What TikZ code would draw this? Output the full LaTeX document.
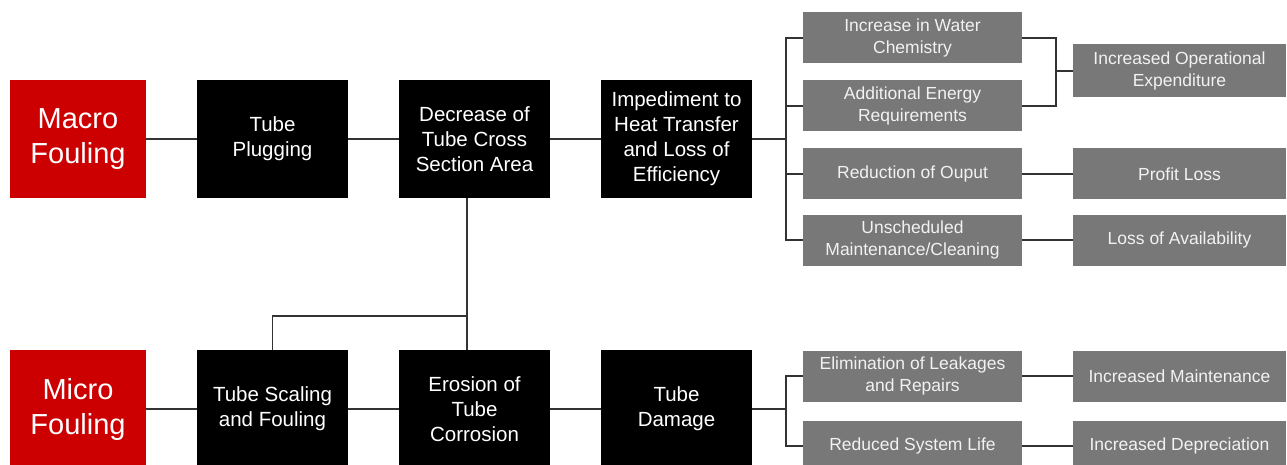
\documentclass[tikz,border=0pt]{standalone}
\usepackage{fontspec}
\setmainfont{Liberation Sans}
\usetikzlibrary{positioning}
\definecolor{foulred}{HTML}{CC0000}
\definecolor{effgray}{HTML}{787878}
\definecolor{linegray}{HTML}{333333}

\begin{document}
\begin{tikzpicture}[x=1pt, y=1pt, node distance=51pt,
			redbox/.style={fill=foulred, text=white, align=center, inner sep=0pt, outer sep=0pt,
				minimum width=136pt, minimum height=118pt, font=\fontsize{29}{35}\selectfont},
			blackbox/.style={fill=black, text=white, align=center, inner sep=0pt, outer sep=0pt,
				minimum width=151pt, minimum height=118pt, font=\fontsize{20.5}{25}\selectfont},
			graybox/.style={fill=effgray, text=white!90!gray, align=center, inner sep=0pt, outer sep=0pt,
				minimum width=219pt, minimum height=51pt, font=\fontsize{17.5}{21.5}\selectfont},
			resultbox/.style={graybox, minimum width=213pt},
			link/.style={draw=linegray, line width=1.3pt}]
			
			\useasboundingbox (0,0) rectangle (1287,-465);
			
			% Ursachen
			\node[redbox] (macro) at (78,-139) {Macro\\Fouling};
			\node[blackbox, right=of macro] (plug) {Tube\\Plugging};
			\node[blackbox, right=of plug] (decrease) {Decrease of\\Tube Cross\\Section Area};
			\node[blackbox, right=of decrease] (impede) {Impediment to\\Heat Transfer\\and Loss of\\Efficiency};
			
			\node[redbox] (micro) at (78,-409) {Micro\\Fouling};
			\node[blackbox, right=of micro] (scaling) {Tube Scaling\\and Fouling};
			\node[blackbox, right=of scaling] (erosion) {Erosion of\\Tube\\Corrosion};
			\node[blackbox, right=of erosion] (damage) {Tube\\Damage};
			
			% Folgen
			\node[graybox, right=of impede, yshift=101pt] (water) {Increase in Water\\Chemistry};
			\node[graybox, right=of impede, yshift=33pt] (energy) {Additional Energy\\Requirements};
			\node[graybox, right=of impede, yshift=-35pt] (output) {Reduction of Ouput};
			\node[graybox, right=of impede, yshift=-101pt] (unsched) {Unscheduled\\Maintenance/Cleaning};
			
			\node[resultbox, right=of water, yshift=-33pt, minimum height=53pt] (opex) {Increased Operational\\Expenditure};
			\node[resultbox, right=of output] (profit) {Profit Loss};
			\node[resultbox, right=of unsched] (avail) {Loss of Availability};
			
			\node[graybox, right=of damage, yshift=33pt] (leak) {Elimination of Leakages\\and Repairs};
			\node[graybox, right=of damage, yshift=-37pt] (life) {Reduced System Life};
			\node[resultbox, right=of leak] (maint) {Increased Maintenance};
			\node[resultbox, right=of life] (deprec) {Increased Depreciation};
			
			% Knoten der Verzweigungen
			\coordinate (tjoin) at (467,-316);
			\coordinate[right=34pt of impede.east] (topfork);
			\coordinate[right=34pt of damage.east] (botfork);
			\coordinate[left=17pt of opex.west] (opexfork);
			
			% Verbindungen
			\draw[link] (macro) -- (plug);
			\draw[link] (plug) -- (decrease);
			\draw[link] (decrease) -- (impede);
			\draw[link] (micro) -- (scaling);
			\draw[link] (scaling) -- (erosion);
			\draw[link] (erosion) -- (damage);
			\draw[link] (decrease.south -| tjoin) -- (erosion.north -| tjoin);
			\draw[link] (tjoin) -| (scaling.north);
			
			\draw[link] (impede.east) -- (topfork);
			\draw[link] (water.west) -| (topfork) |- (unsched.west);
			\draw[link] (energy.west) -| (topfork);
			\draw[link] (output.west) -| (topfork);
			\draw[link] (water.east) -| (opexfork) |- (energy.east);
			\draw[link] (opexfork) -- (opex.west);
			\draw[link] (output) -- (profit);
			\draw[link] (unsched) -- (avail);
			
			\draw[link] (damage.east) -- (botfork);
			\draw[link] (leak.west) -| (botfork) |- (life.west);
			\draw[link] (leak) -- (maint);
			\draw[link] (life) -- (deprec);
			
		\end{tikzpicture}
\end{document}
